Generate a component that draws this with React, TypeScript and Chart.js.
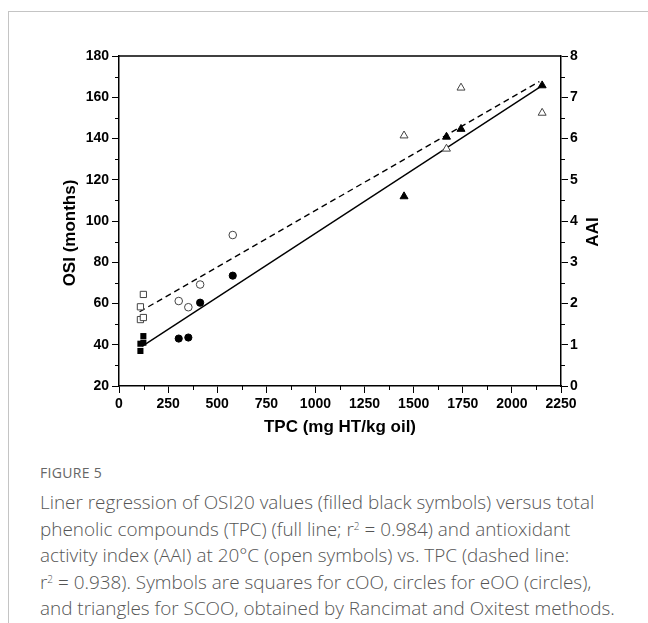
import React, { useEffect, useRef } from "react";
import { Chart, registerables } from "chart.js";

Chart.register(...registerables);

// Axis ticks
const xTickValues = [0, 250, 500, 750, 1000, 1250, 1500, 1750, 2000, 2250];
const osiTickValues = [20, 40, 60, 80, 100, 120, 140, 160, 180];
const aaiTickValues = [0, 1, 2, 3, 4, 5, 6, 7, 8];

// cOO (squares)
const cooTpcOsi = [109, 109, 124, 124];
const cooOsi = [37.0, 40.5, 41.0, 44.2];
const cooTpcAai = [109, 109, 124, 124];
const cooAai = [1.92, 1.61, 1.66, 2.22];

// eOO (circles)
const eooTpc = [304, 353, 413, 579];
const eooOsi = [43.0, 43.5, 60.4, 73.5];
const eooAai = [2.06, 1.91, 2.46, 3.66];

// SCOO (triangles)
const scooTpc = [1451, 1667, 1741, 2154];
const scooOsi = [111.9, 140.8, 144.6, 165.7];
const scooAai = [6.07, 5.75, 7.23, 6.62];

// Regression lines (end points)
const osiFitTpc = [119, 2150];
const osiFit = [39.3, 165.4];
const aaiFitTpc = [105, 2140];
const aaiFit = [1.8, 7.38];

const pts = (xs: number[], ys: number[]) => xs.map((x, i) => ({ x, y: ys[i] }));

const FONT = "'Liberation Sans', Arial, sans-serif";

export default function App() {
  const ref = useRef<HTMLCanvasElement>(null);

  useEffect(() => {
    if (!ref.current) return;

    const decor = {
      id: "decor",
      afterDraw(chart: any) {
        const { ctx, chartArea: a, scales } = chart;
        ctx.save();
        ctx.strokeStyle = "#000";
        ctx.lineWidth = 1.5;
        ctx.beginPath();
        ctx.moveTo(a.left, a.top);
        ctx.lineTo(a.right, a.top);
        ctx.stroke();
        ctx.lineWidth = 1;
        ctx.beginPath();
        for (let i = 0; i < xTickValues.length - 1; i++) {
          const v = (xTickValues[i] + xTickValues[i + 1]) / 2;
          const x = Math.round(scales.x.getPixelForValue(v)) + 0.5;
          ctx.moveTo(x, a.bottom);
          ctx.lineTo(x, a.bottom + 4);
        }
        for (let i = 0; i < osiTickValues.length - 1; i++) {
          const v = (osiTickValues[i] + osiTickValues[i + 1]) / 2;
          const y = Math.round(scales.y.getPixelForValue(v)) + 0.5;
          ctx.moveTo(a.left, y);
          ctx.lineTo(a.left - 4, y);
        }
        for (let i = 0; i < aaiTickValues.length - 1; i++) {
          const v = (aaiTickValues[i] + aaiTickValues[i + 1]) / 2;
          const y = Math.round(scales.y1.getPixelForValue(v)) + 0.5;
          ctx.moveTo(a.right, y);
          ctx.lineTo(a.right + 4, y);
        }
        ctx.stroke();

        ctx.fillStyle = "#000";
        ctx.font = `bold 17px ${FONT}`;
        ctx.textAlign = "center";
        ctx.textBaseline = "middle";
        ctx.save();
        ctx.translate(70, 233);
        ctx.rotate(-Math.PI / 2);
        ctx.fillText("OSI (months)", 0, 0);
        ctx.restore();
        ctx.save();
        ctx.translate(593, 232);
        ctx.rotate(-Math.PI / 2);
        ctx.fillText("AAI", 0, 0);
        ctx.restore();
        ctx.restore();
      },
    };

    const tickFont = { family: FONT, size: 14, weight: "bold" as const };
    const plain = (v: any) => String(v);

    const chart = new Chart(ref.current, {
      type: "scatter",
      data: {
        datasets: [
          {
            label: "cOO OSI",
            data: pts(cooTpcOsi, cooOsi),
            yAxisID: "y",
            pointStyle: "rect",
            pointRadius: 4.3,
            backgroundColor: "#000",
            borderColor: "#000",
            borderWidth: 0,
          },
          {
            label: "cOO AAI",
            data: pts(cooTpcAai, cooAai),
            yAxisID: "y1",
            pointStyle: "rect",
            pointRadius: 4.4,
            backgroundColor: "#fff",
            borderColor: "#444",
            borderWidth: 1,
          },
          {
            label: "eOO OSI",
            data: pts(eooTpc, eooOsi),
            yAxisID: "y",
            pointStyle: "circle",
            pointRadius: 3.6,
            backgroundColor: "#000",
            borderColor: "#000",
            borderWidth: 1,
          },
          {
            label: "eOO AAI",
            data: pts(eooTpc, eooAai),
            yAxisID: "y1",
            pointStyle: "circle",
            pointRadius: 3.8,
            backgroundColor: "#fff",
            borderColor: "#444",
            borderWidth: 1,
          },
          {
            label: "SCOO OSI",
            data: pts(scooTpc, scooOsi),
            yAxisID: "y",
            pointStyle: "triangle",
            pointRadius: 4.6,
            backgroundColor: "#000",
            borderColor: "#000",
            borderWidth: 1,
          },
          {
            label: "SCOO AAI",
            data: pts(scooTpc, scooAai),
            yAxisID: "y1",
            pointStyle: "triangle",
            pointRadius: 4.6,
            backgroundColor: "#fff",
            borderColor: "#444",
            borderWidth: 1,
          },
          {
            label: "OSI fit",
            data: pts(osiFitTpc, osiFit),
            yAxisID: "y",
            showLine: true,
            pointRadius: 0,
            borderColor: "#000",
            borderWidth: 1.4,
          },
          {
            label: "AAI fit",
            data: pts(aaiFitTpc, aaiFit),
            yAxisID: "y1",
            showLine: true,
            pointRadius: 0,
            borderColor: "#000",
            borderWidth: 1.4,
            borderDash: [6, 4],
          },
        ],
      },
      options: {
        responsive: false,
        animation: false,
        layout: { padding: { top: 56, left: 0, right: 0, bottom: 0 } },
        plugins: { legend: { display: false }, tooltip: { enabled: false } },
        scales: {
          x: {
            type: "linear",
            min: 0,
            max: 2250,
            afterBuildTicks: (s: any) => {
              s.ticks = xTickValues.map((v) => ({ value: v }));
            },
            afterFit: (s: any) => {
              s.height = 64;
            },
            grid: {
              drawOnChartArea: false,
              drawTicks: true,
              tickLength: 7,
              tickColor: "#000",
              tickWidth: 1,
            },
            border: { display: true, color: "#000", width: 1.5 },
            ticks: { font: tickFont, color: "#000", padding: 3, maxRotation: 0, autoSkip: false, callback: plain },
            title: {
              display: true,
              text: "TPC (mg HT/kg oil)",
              color: "#000",
              font: { family: FONT, size: 17, weight: "bold" },
              padding: { top: 0, bottom: 12 },
            },
          },
          y: {
            type: "linear",
            position: "left",
            min: 20,
            max: 180,
            afterBuildTicks: (s: any) => {
              s.ticks = osiTickValues.map((v) => ({ value: v }));
            },
            afterFit: (s: any) => {
              s.width = 119;
            },
            grid: {
              drawOnChartArea: false,
              drawTicks: true,
              tickLength: 7,
              tickColor: "#000",
              tickWidth: 1,
            },
            border: { display: true, color: "#000", width: 1.5 },
            ticks: { font: tickFont, color: "#000", padding: 3, autoSkip: false, callback: plain },
          },
          y1: {
            type: "linear",
            position: "right",
            min: 0,
            max: 8,
            afterBuildTicks: (s: any) => {
              s.ticks = aaiTickValues.map((v) => ({ value: v }));
            },
            afterFit: (s: any) => {
              s.width = 87;
            },
            grid: {
              drawOnChartArea: false,
              drawTicks: true,
              tickLength: 7,
              tickColor: "#000",
              tickWidth: 1,
            },
            border: { display: true, color: "#000", width: 1.5 },
            ticks: { font: tickFont, color: "#000", padding: 2, autoSkip: false, callback: plain },
          },
        },
      },
      plugins: [decor],
    } as any);

    return () => chart.destroy();
  }, []);

  const caption: React.CSSProperties = {
    fontFamily: "'Open Sans', 'Noto Sans', sans-serif",
    fontSize: 18.9,
    fontWeight: 300,
    lineHeight: "26.6px",
    color: "#555",
    whiteSpace: "nowrap",
  };
  const sup: React.CSSProperties = { fontSize: 10, lineHeight: 0, verticalAlign: "6px" };

  return (
    <div>
      <div
        style={{
          position: "absolute",
          left: 8,
          top: 11,
          width: 640,
          height: 612,
          boxSizing: "border-box",
          borderTop: "1px solid #c4c4c4",
          borderLeft: "1px solid #c4c4c4",
        }}
      />
      <canvas
        ref={ref}
        width={648}
        height={450}
        style={{ position: "absolute", left: 0, top: 0, width: 648, height: 450 }}
      />
      <div
        style={{
          position: "absolute",
          left: 40,
          top: 463,
          fontFamily: "'Open Sans', 'Noto Sans', sans-serif",
          fontSize: 14,
          color: "#666",
          letterSpacing: 0.3,
        }}
      >
        FIGURE 5
      </div>
      <div style={{ position: "absolute", left: 40, top: 489, ...caption }}>
        <div>Liner regression of OSI20 values (filled black symbols) versus total</div>
        <div>
          phenolic compounds (TPC) (full line; r<sup style={sup}>2</sup> = 0.984) and antioxidant
        </div>
        <div>activity index (AAI) at 20°C (open symbols) vs. TPC (dashed line:</div>
        <div>
          r<sup style={sup}>2</sup> = 0.938). Symbols are squares for cOO, circles for eOO (circles),
        </div>
        <div>and triangles for SCOO, obtained by Rancimat and Oxitest methods.</div>
      </div>
    </div>
  );
}
